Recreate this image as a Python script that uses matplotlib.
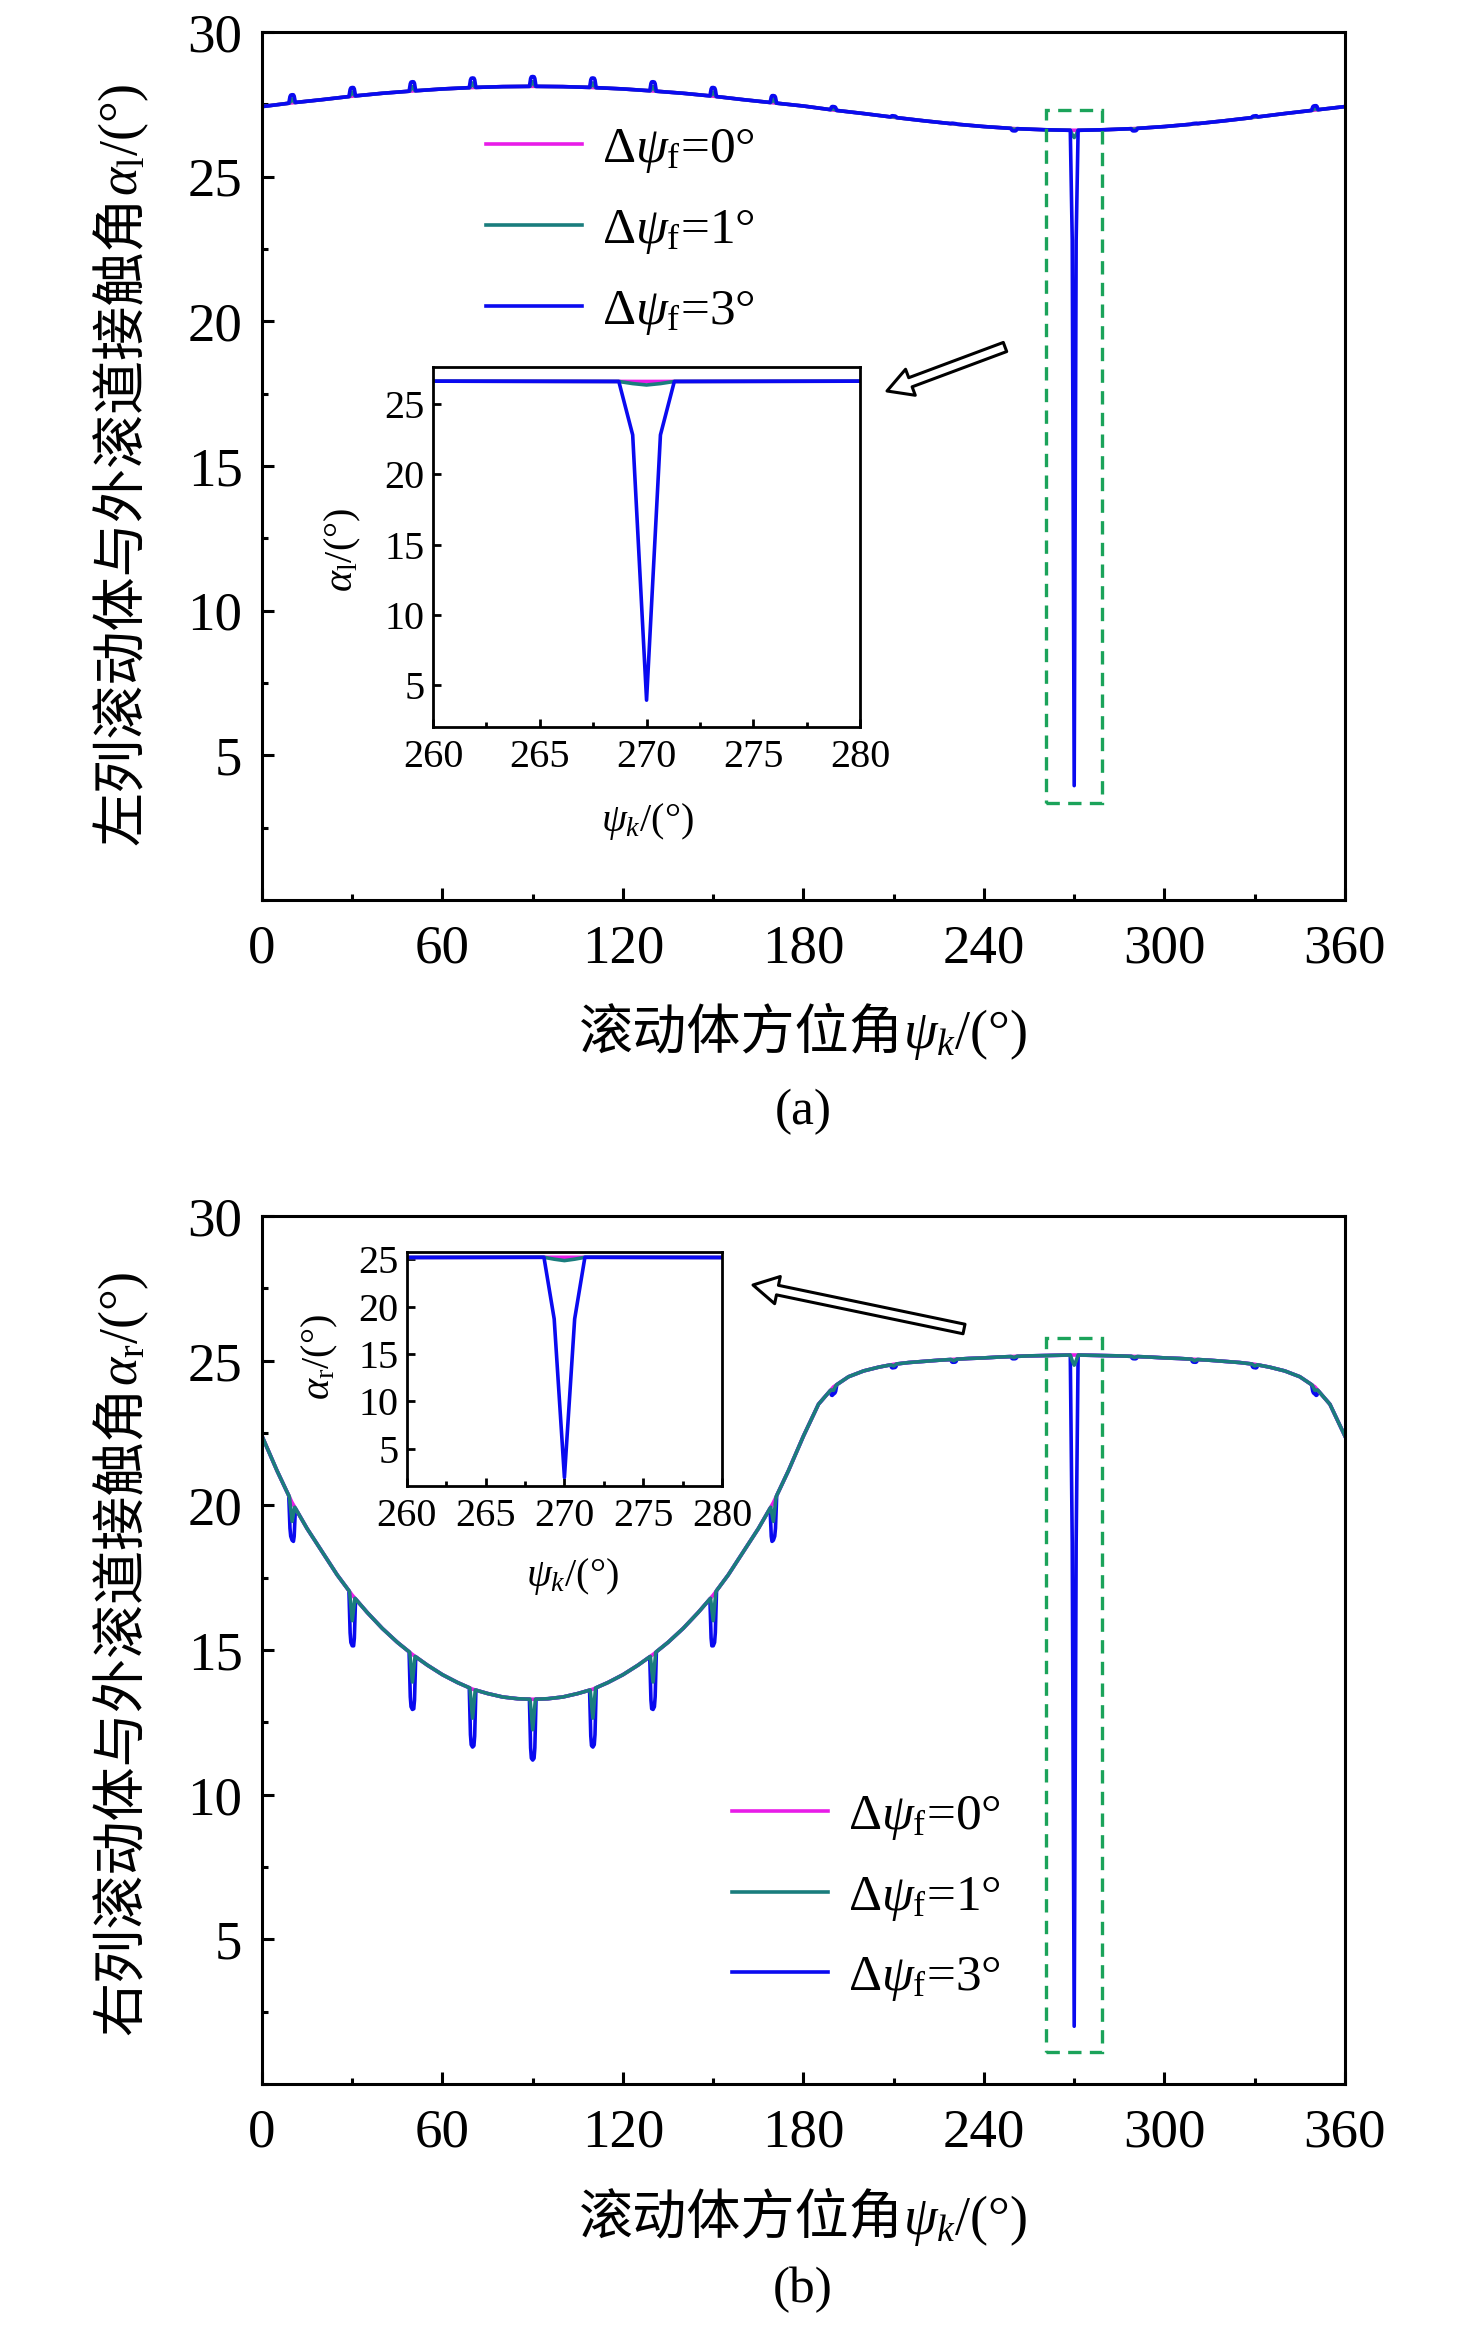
import numpy as np
import matplotlib
matplotlib.use("Agg")
import matplotlib.pyplot as plt
from matplotlib.lines import Line2D
from matplotlib.patches import Rectangle
from matplotlib.ticker import MultipleLocator
from matplotlib.transforms import IdentityTransform

plt.rcParams["font.family"] = ["Liberation Serif", "Noto Sans CJK SC"]
plt.rcParams["mathtext.fontset"] = "custom"
plt.rcParams["mathtext.rm"] = "Liberation Serif"
plt.rcParams["mathtext.it"] = "Liberation Serif:italic"

psi_a = np.arange(0, 361, 10)
alpha_l_base = [27.42, 27.55, 27.66, 27.78, 27.88, 27.96, 28.03, 28.08, 28.11, 28.12,
                28.11, 28.08, 28.03, 27.96, 27.88, 27.78, 27.66, 27.55, 27.44, 27.30,
                27.18, 27.05, 26.93, 26.82, 26.73, 26.66, 26.62, 26.60, 26.62, 26.66,
                26.73, 26.82, 26.93, 27.05, 27.18, 27.30, 27.42]

psi_b = np.arange(0, 361, 5)
alpha_r_base = [22.4, 21.2, 20.1, 19.2, 18.4, 17.6, 16.9, 16.3, 15.75, 15.27, 14.85, 14.48,
                14.15, 13.88, 13.65, 13.5, 13.38, 13.32, 13.3,
                13.32, 13.38, 13.5, 13.65, 13.88, 14.15, 14.48, 14.85, 15.27, 15.75, 16.3,
                16.9, 17.6, 18.4, 19.2, 20.1, 21.2, 22.4,
                23.5, 24.1, 24.45, 24.65, 24.78, 24.88, 24.94, 24.98, 25.02, 25.05, 25.08,
                25.1, 25.13, 25.15, 25.17, 25.18, 25.19, 25.2,
                25.19, 25.18, 25.17, 25.15, 25.13, 25.1, 25.08, 25.05, 25.02, 24.98, 24.94,
                24.88, 24.78, 24.65, 24.45, 24.1, 23.5, 22.4]

# roller positions and local bump (+) / dip (-) size at each roller
rollers = [10, 30, 50, 70, 90, 110, 130, 150, 170, 190, 210, 230, 250, 270, 290, 310, 330, 350]
bump_l_3 = [0.28, 0.30, 0.32, 0.33, 0.34, 0.33, 0.32, 0.30, 0.25, 0.12, 0.05, 0.02, -0.08, 0.0,
            -0.08, 0.02, 0.05, 0.15]
bump_l_1 = [0.14, 0.15, 0.16, 0.16, 0.17, 0.16, 0.16, 0.15, 0.12, 0.06, 0.02, 0.01, -0.04, 0.0,
            -0.04, 0.01, 0.02, 0.07]
bump_r_3 = [-1.3, -1.75, -1.9, -2.0, -2.1, -2.0, -1.9, -1.75, -1.3, -0.25, -0.12, -0.1, -0.08, 0.0,
            -0.08, -0.1, -0.12, -0.25]
bump_r_1 = [-0.65, -0.88, -0.95, -1.0, -1.05, -1.0, -0.95, -0.88, -0.65, -0.12, -0.06, -0.05, -0.04, 0.0,
            -0.04, -0.05, -0.06, -0.12]

# faulty roller at 270 deg
fault_psi = [268.7, 269.35, 270.0, 270.65, 271.3]
fault_l_3 = [26.6, 22.8, 3.95, 22.8, 26.6]
fault_l_1 = [26.6, 26.45, 26.35, 26.45, 26.6]
fault_r_3 = [25.2, 18.7, 2.0, 18.7, 25.2]
fault_r_1 = [25.2, 25.0, 24.85, 25.0, 25.2]

labels = [r"$\Delta\psi_\mathrm{f}$=0°", r"$\Delta\psi_\mathrm{f}$=1°", r"$\Delta\psi_\mathrm{f}$=3°"]
colors = ["#E81CE8", "#1A7D7D", "#0A0AF0"]

# shape of a single roller bump
blue_off = [-1.1, -0.7, -0.45, 0.0, 0.45, 0.7, 1.1]
blue_frac = [0, 0.8, 0.97, 1.0, 0.97, 0.8, 0]
teal_off = [-0.9, -0.35, 0.0, 0.35, 0.9]
teal_frac = [0, 0.6, 1.0, 0.6, 0]


def build(psi, base, bumps, off, frac, f_val):
    psi = np.asarray(psi, float)
    base = np.asarray(base, float)
    keep = np.ones(len(psi), bool)
    xs, ys = [], []
    for r, b in zip(rollers, bumps):
        if r == 270:
            keep &= np.abs(psi - r) > 1.4
            xs += fault_psi
            ys += f_val
        elif b != 0:
            keep &= np.abs(psi - r) > 1.2
            px = r + np.array(off)
            xs += list(px)
            ys += list(np.interp(px, psi, base) + b * np.array(frac))
    x = np.concatenate([psi[keep], xs])
    y = np.concatenate([base[keep], ys])
    o = np.argsort(x)
    return x[o], y[o]


a0 = (psi_a, np.array(alpha_l_base))
a1 = build(psi_a, alpha_l_base, bump_l_1, teal_off, teal_frac, fault_l_1)
a3 = build(psi_a, alpha_l_base, bump_l_3, blue_off, blue_frac, fault_l_3)
b0 = (psi_b, np.array(alpha_r_base))
b1 = build(psi_b, alpha_r_base, bump_r_1, teal_off, teal_frac, fault_r_1)
b3 = build(psi_b, alpha_r_base, bump_r_3, blue_off, blue_frac, fault_r_3)

W, H = 1476, 2332
fig = plt.figure(figsize=(W / 100, H / 100), dpi=100)
axa = fig.add_axes([0.1775, 0.6141, 0.7337, 0.3722])
axb = fig.add_axes([0.1775, 0.1063, 0.7337, 0.3722])
ina = fig.add_axes([0.2934, 0.6883, 0.2893, 0.1544])
inb = fig.add_axes([0.2757, 0.3628, 0.2134, 0.1003])

lw = 2.6
for ax, order, series in [(axa, [0, 1, 2], [a0, a1, a3]), (axb, [2, 0, 1], [b0, b1, b3]),
                          (ina, [0, 1, 2], [a0, a1, a3]), (inb, [0, 1, 2], [b0, b1, b3])]:
    for k, i in enumerate(order):
        ax.plot(series[i][0], series[i][1], color=colors[i], lw=lw, zorder=2 + k * 0.1)

for ax in (axa, axb):
    ax.set_xlim(0, 360)
    ax.set_ylim(0, 30)
    ax.set_xticks(np.arange(0, 361, 60))
    ax.set_yticks([5, 10, 15, 20, 25, 30])
    ax.xaxis.set_minor_locator(MultipleLocator(30))
    ax.yaxis.set_minor_locator(MultipleLocator(2.5))
    ax.tick_params(which="both", direction="in", width=2.2, labelsize=39.5)
    ax.tick_params(which="major", length=8.5)
    ax.tick_params(which="minor", length=4.3)
    ax.tick_params(axis="x", pad=17)
    ax.tick_params(axis="y", pad=14)
    for s in ax.spines.values():
        s.set_linewidth(2.2)

axa.add_patch(Rectangle((260.6, 3.35), 18.7, 23.95, fill=False, ec="#1BA35A", lw=2.4,
                        ls=(0, (4, 2.5)), zorder=5))
axb.add_patch(Rectangle((260.6, 1.1), 18.7, 24.7, fill=False, ec="#1BA35A", lw=2.4,
                        ls=(0, (4, 2.5)), zorder=5))

ina.set_ylim(2.05, 27.64)
inb.set_ylim(1.1, 25.75)
for ax in (ina, inb):
    ax.set_xlim(260, 280)
    ax.set_xticks([260, 265, 270, 275, 280])
    ax.set_yticks([5, 10, 15, 20, 25])
    ax.xaxis.set_minor_locator(MultipleLocator(2.5))
    ax.tick_params(which="both", direction="in", width=2.0, labelsize=29)
    ax.tick_params(which="major", length=6)
    ax.tick_params(which="minor", length=3.5)
    ax.tick_params(axis="x", pad=9)
    ax.tick_params(axis="y", pad=6)
    for s in ax.spines.values():
        s.set_linewidth(2.0)


def mixed_label(cx, cy, cjk, math, size, vertical=False):
    # Chinese part and math part as two texts, joined end to end and centred on (cx, cy) in pixels
    em = size * 100 / 72
    rot = 90 if vertical else 0
    kw = dict(fontsize=size, rotation=rot, rotation_mode="anchor", ha="left", va="baseline",
              transform=IdentityTransform())
    t1 = fig.text(0, 0, cjk, family=["Noto Sans CJK SC"], **kw)
    t2 = fig.text(0, 0, math, **kw)
    fig.canvas.draw()
    r = fig.canvas.get_renderer()
    e1, e2 = t1.get_window_extent(r), t2.get_window_extent(r)
    if vertical:
        l1, l2 = e1.height, e2.height
        bx = cx + 0.36 * em
        y0 = cy - (l1 + l2) / 2
        t1.set_position((bx, y0))
        t2.set_position((bx, y0 + l1))
    else:
        l1, l2 = e1.width, e2.width
        by = cy - 0.36 * em
        x0 = cx - (l1 + l2) / 2
        t1.set_position((x0, by))
        t2.set_position((x0 + l1, by))


# axis titles
mixed_label(118, H - 464, "左列滚动体与外滚道接触角", "$\\alpha_\\mathrm{l}$/(°)", 39, vertical=True)
mixed_label(118, H - 1653, "右列滚动体与外滚道接触角", "$\\alpha_\\mathrm{r}$/(°)", 39, vertical=True)
mixed_label(803, H - 1029, "滚动体方位角", "$\\psi_k$/(°)", 39)
mixed_label(803, H - 2214, "滚动体方位角", "$\\psi_k$/(°)", 39)
fig.text(0.544, 0.5232, "(a)", ha="center", va="center", fontsize=37)
fig.text(0.544, 0.018, "(b)", ha="center", va="center", fontsize=37)
fig.text(0.4383, 0.6479, "$\\psi_k$/(°)", ha="center", va="center", fontsize=29)
fig.text(0.2324, 0.7642, "$\\alpha_\\mathrm{l}$/(°)", rotation=90, ha="center", va="center", fontsize=29)
fig.text(0.3875, 0.3238, "$\\psi_k$/(°)", ha="center", va="center", fontsize=29)
fig.text(0.2168, 0.4181, "$\\alpha_\\mathrm{r}$/(°)", rotation=90, ha="center", va="center", fontsize=29)

# legends
handles = [Line2D([], [], color=c, lw=2.6) for c in colors]
for ax, anchor in [(axa, (0.3293, 0.9460)), (axb, (0.496, 0.2312))]:
    ax.legend(handles, labels, loc="upper left", bbox_to_anchor=anchor, bbox_transform=fig.transFigure,
              frameon=False, fontsize=37, handlelength=1.86, handletextpad=0.4, labelspacing=0.62,
              borderpad=0, borderaxespad=0)

# hollow arrows pointing at the insets
arrow = dict(arrowstyle="simple,head_length=1.8,head_width=2.0,tail_width=0.7", fc="white",
             ec="black", lw=2.2, mutation_scale=10, shrinkA=0, shrinkB=0)
axa.annotate("", xy=(887, H - 391), xytext=(1005, H - 347), xycoords="figure pixels",
             textcoords="figure pixels", arrowprops=arrow)
axb.annotate("", xy=(753, H - 1285), xytext=(964, H - 1329), xycoords="figure pixels",
             textcoords="figure pixels", arrowprops=arrow)

fig.savefig("out.png", dpi=100)
